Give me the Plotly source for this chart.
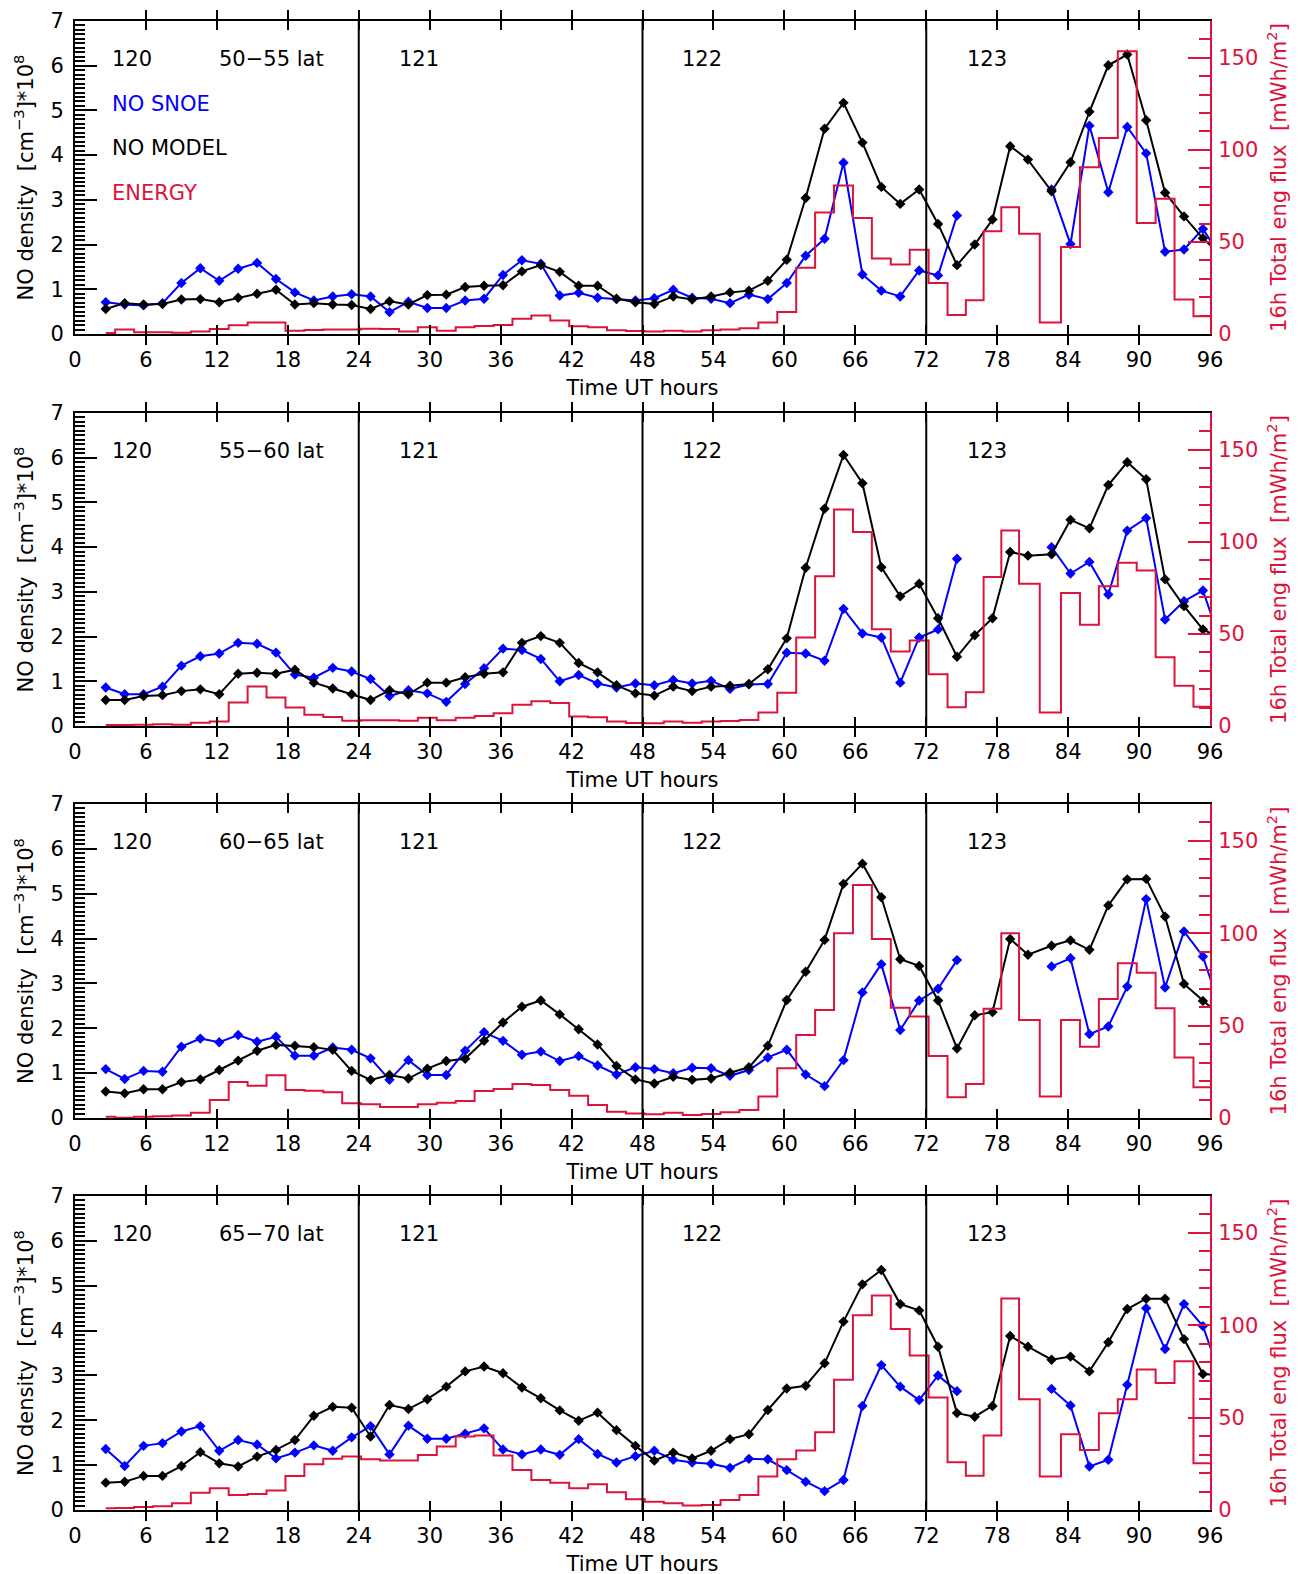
import plotly.graph_objects as go

# ---------------- data ----------------
T = [2.6, 4.2, 5.8, 7.4, 9.0, 10.6, 12.2, 13.8, 15.4, 17.0, 18.6, 20.2, 21.8, 23.4, 25.0,
     26.6, 28.2, 29.8, 31.4, 33.0, 34.6, 36.2, 37.8, 39.4, 41.0, 42.6, 44.2, 45.8, 47.4,
     49.0, 50.6, 52.2, 53.8, 55.4, 57.0, 58.6, 60.2, 61.8, 63.4, 65.0, 66.6, 68.2, 69.8,
     71.4, 73.0, 74.6, 76.1, 77.6, 79.1, 80.6, 82.6, 84.2, 85.8, 87.4, 89.0, 90.6, 92.2,
     93.8, 95.4, 97.0]

LAT_LABELS = ["50\u221255 lat", "55\u221260 lat", "60\u221265 lat", "65\u221270 lat"]
DAY_LABELS = ["120", "121", "122", "123"]
DAY_X = [3.0, 27.2, 51.2, 75.3]
X_TICKS = list(range(0, 97, 6))
DAY_LINES = [24, 48, 72]

N = None
snoe_1 = [0.71, 0.66, 0.64, 0.69, 1.14, 1.47, 1.19, 1.46, 1.59, 1.23, 0.93, 0.75, 0.84, 0.89, 0.84,
          0.49, 0.72, 0.58, 0.58, 0.75, 0.79, 1.32, 1.65, 1.57, 0.86, 0.92, 0.81, 0.78, 0.75,
          0.80, 0.99, 0.81, 0.79, 0.69, 0.88, 0.78, 1.14, 1.75, 2.13, 3.83, 1.33, 0.97, 0.84,
          1.42, 1.31, 2.65, N, N, N, N, 3.23, 2.01, 4.66, 3.17, 4.63, 4.04, 1.84, 1.89, 2.35, 1.70]
model_1 = [0.56, 0.69, 0.66, 0.67, 0.77, 0.78, 0.71, 0.81, 0.90, 0.99, 0.66, 0.69, 0.66, 0.65, 0.56,
           0.73, 0.66, 0.87, 0.88, 1.05, 1.08, 1.09, 1.40, 1.54, 1.39, 1.08, 1.08, 0.79, 0.71,
           0.67, 0.84, 0.77, 0.84, 0.93, 0.97, 1.19, 1.66, 3.04, 4.59, 5.17, 4.28, 3.29, 2.91,
           3.23, 2.46, 1.54, 2.00, 2.56, 4.20, 3.90, 3.19, 3.84, 4.97, 6.01, 6.25, 4.78, 3.16,
           2.63, 2.14, 1.75]
energy_1 = [0.5, 2.4, 1.0, 1.0, 0.7, 1.3, 2.7, 4.7, 6.3, 6.3, 1.8, 2.2, 2.4, 2.5, 2.9,
            2.7, 1.4, 3.6, 1.8, 3.6, 4.3, 4.9, 8.3, 10.0, 7.4, 4.2, 3.6, 2.0, 1.6,
            1.4, 1.8, 1.4, 2.0, 2.4, 3.1, 6.3, 12.0, 36.0, 66.0, 80.6, 63.0, 41.0, 37.7,
            45.8, 27.7, 10.3, 18.3, 55.8, 68.8, 54.5, 6.3, 47.3, 90.6, 106.5, 153.6, 60.3, 73.4,
            18.7, 9.6, 9.6]

snoe_2 = [0.86, 0.71, 0.71, 0.88, 1.35, 1.56, 1.62, 1.86, 1.84, 1.64, 1.15, 1.08, 1.30, 1.22, 1.05,
          0.67, 0.80, 0.73, 0.54, 0.94, 1.29, 1.73, 1.70, 1.50, 1.00, 1.14, 0.95, 0.86, 0.95,
          0.91, 1.03, 0.95, 1.01, 0.83, 0.93, 0.94, 1.64, 1.62, 1.46, 2.62, 2.07, 1.98, 0.97,
          1.98, 2.16, 3.74, N, N, N, N, 4.00, 3.41, 3.67, 2.94, 4.37, 4.65, 2.38, 2.79, 3.03, 1.80]
model_2 = [0.58, 0.58, 0.67, 0.69, 0.78, 0.82, 0.71, 1.17, 1.19, 1.17, 1.26, 0.97, 0.84, 0.71, 0.58,
           0.80, 0.71, 0.97, 0.97, 1.09, 1.17, 1.20, 1.86, 2.01, 1.86, 1.41, 1.20, 0.91, 0.73,
           0.68, 0.88, 0.78, 0.88, 0.90, 0.94, 1.27, 1.96, 3.54, 4.86, 6.06, 5.43, 3.55, 2.90,
           3.18, 2.41, 1.55, 2.03, 2.41, 3.89, 3.81, 3.84, 4.61, 4.42, 5.39, 5.90, 5.52, 3.28,
           2.68, 2.16, 1.95]
energy_2 = [0.5, 0.5, 0.7, 0.9, 0.7, 1.8, 2.5, 12.8, 21.5, 15.5, 10.1, 6.1, 4.9, 2.9, 3.1,
            3.1, 2.9, 4.5, 3.1, 4.5, 5.4, 6.9, 11.6, 13.4, 12.5, 5.1, 4.7, 2.4, 1.6,
            1.5, 2.4, 1.8, 2.4, 2.7, 3.3, 7.3, 18.1, 48.1, 81.3, 117.6, 105.4, 52.6, 40.5,
            46.5, 28.1, 10.2, 18.3, 80.9, 106.2, 77.3, 7.3, 72.2, 55.0, 75.9, 88.6, 84.4, 37.4,
            21.8, 10.5, 10.5]

snoe_3 = [1.09, 0.87, 1.05, 1.03, 1.59, 1.77, 1.69, 1.85, 1.70, 1.81, 1.39, 1.39, 1.57, 1.52, 1.33,
          0.85, 1.29, 0.96, 0.96, 1.50, 1.91, 1.72, 1.41, 1.48, 1.27, 1.38, 1.17, 0.97, 1.13,
          1.09, 1.00, 1.12, 1.11, 0.94, 1.07, 1.35, 1.52, 0.97, 0.71, 1.29, 2.80, 3.43, 1.96,
          2.62, 2.88, 3.52, N, N, N, N, 3.38, 3.56, 1.87, 2.04, 2.93, 4.88, 2.91, 4.16, 3.60, 2.35]
model_3 = [0.59, 0.55, 0.64, 0.64, 0.80, 0.86, 1.07, 1.28, 1.50, 1.63, 1.61, 1.58, 1.52, 1.05, 0.85,
           0.96, 0.88, 1.10, 1.27, 1.32, 1.72, 2.13, 2.48, 2.62, 2.31, 1.98, 1.64, 1.16, 0.86,
           0.77, 0.92, 0.85, 0.88, 1.01, 1.13, 1.61, 2.63, 3.26, 3.97, 5.22, 5.67, 4.92, 3.54,
           3.39, 2.62, 1.55, 2.29, 2.36, 3.99, 3.64, 3.84, 3.96, 3.75, 4.74, 5.32, 5.33, 4.49,
           2.99, 2.61, 2.25]
energy_3 = [0.7, 0.2, 0.7, 0.9, 1.3, 2.9, 9.8, 19.5, 17.5, 23.1, 15.2, 14.8, 13.9, 8.0, 7.4,
            6.0, 6.0, 7.4, 8.3, 9.2, 14.6, 15.7, 18.4, 17.9, 15.2, 12.1, 7.1, 3.4, 2.4,
            2.0, 2.9, 1.6, 2.2, 3.1, 4.3, 11.6, 26.9, 44.9, 58.5, 100.0, 126.2, 96.9, 59.7,
            54.9, 33.6, 11.2, 18.4, 59.2, 100.0, 53.1, 11.6, 53.1, 38.6, 64.4, 83.8, 78.7, 59.4,
            32.7, 16.6, 16.6]

snoe_4 = [1.36, 0.98, 1.43, 1.49, 1.75, 1.87, 1.32, 1.56, 1.46, 1.15, 1.28, 1.44, 1.32, 1.62, 1.87,
          1.24, 1.88, 1.59, 1.59, 1.70, 1.82, 1.35, 1.24, 1.35, 1.23, 1.58, 1.25, 1.06, 1.20,
          1.32, 1.12, 1.06, 1.03, 0.94, 1.14, 1.13, 0.89, 0.63, 0.42, 0.67, 2.32, 3.23, 2.75,
          2.45, 3.00, 2.65, N, N, N, N, 2.70, 2.33, 0.97, 1.12, 2.79, 4.50, 3.59, 4.59, 4.10, 2.90]
model_4 = [0.61, 0.63, 0.76, 0.76, 0.98, 1.29, 1.04, 0.97, 1.19, 1.34, 1.56, 2.10, 2.30, 2.28, 1.64,
           2.34, 2.25, 2.47, 2.75, 3.09, 3.20, 3.05, 2.73, 2.49, 2.22, 1.99, 2.17, 1.78, 1.43,
           1.10, 1.28, 1.15, 1.32, 1.58, 1.69, 2.23, 2.71, 2.77, 3.27, 4.20, 5.03, 5.35, 4.59,
           4.45, 3.64, 2.16, 2.08, 2.32, 3.88, 3.64, 3.35, 3.42, 3.09, 3.74, 4.48, 4.71, 4.71,
           3.81, 3.03, 3.00]
energy_4 = [0.9, 1.1, 1.6, 2.0, 3.6, 9.4, 11.8, 8.1, 8.7, 10.5, 18.4, 24.8, 27.8, 28.9, 27.5,
            26.8, 26.8, 29.8, 34.4, 39.8, 40.3, 29.5, 21.7, 16.3, 14.8, 11.8, 13.9, 9.6, 5.8,
            4.5, 3.6, 2.4, 2.7, 5.4, 8.1, 18.1, 27.5, 32.2, 42.1, 70.5, 105.4, 116.1, 98.0,
            83.7, 60.9, 25.9, 18.6, 40.3, 114.5, 60.0, 18.1, 41.0, 32.5, 52.4, 60.0, 76.0, 68.7,
            80.5, 25.3, 25.3]

SNOE = [snoe_1, snoe_2, snoe_3, snoe_4]
MODEL = [model_1, model_2, model_3, model_4]
ENERGY = [energy_1, energy_2, energy_3, energy_4]

# ---------------- style ----------------
# the page body has an 8 px margin, so the figure is shifted by 8 px
OFF = 8
W = 1301 - 2 * OFF
H = 1600          # taller than the window so the last axis title has room
PANEL_TOP = [21, 413, 804, 1196]
PANEL_BOT = [334, 726, 1118, 1510]
RED = "#DC143C"
BLUE = "#0000FF"
FONT = "DejaVu Sans"
FS = 21

fig = go.Figure()
layout = {}
shapes = []
annotations = []

for i in range(4):
    xname = "x" if i == 0 else f"x{i+1}"
    yl = "y" if i == 0 else f"y{2*i+1}"
    yr = f"y{2*i+2}"
    xkey = "xaxis" if i == 0 else f"xaxis{i+1}"
    ylkey = "yaxis" if i == 0 else f"yaxis{2*i+1}"
    yrkey = f"yaxis{2*i+2}"
    dom = [1 - (PANEL_BOT[i] - OFF) / H, 1 - (PANEL_TOP[i] - OFF) / H]

    fig.add_trace(go.Scatter(x=T, y=ENERGY[i], xaxis=xname, yaxis=yr, mode="lines",
                             line=dict(color=RED, width=2, shape="hvh"),
                             showlegend=False, cliponaxis=True))
    fig.add_trace(go.Scatter(x=T, y=SNOE[i], xaxis=xname, yaxis=yl, mode="lines+markers",
                             line=dict(color=BLUE, width=2), connectgaps=False,
                             marker=dict(symbol="diamond", size=8, color=BLUE),
                             showlegend=False, cliponaxis=True))
    fig.add_trace(go.Scatter(x=T, y=MODEL[i], xaxis=xname, yaxis=yl, mode="lines+markers",
                             line=dict(color="black", width=2),
                             marker=dict(symbol="diamond", size=8, color="black"),
                             showlegend=False, cliponaxis=True))

    layout[xkey] = dict(
        domain=[0, 1], anchor=yl, range=[0, 96], tickmode="array", tickvals=X_TICKS,
        ticks="inside", ticklen=9, tickwidth=2, tickcolor="black",
        showline=True, linewidth=2, linecolor="black", mirror="allticks",
        showgrid=False, zeroline=False, automargin=False, ticklabelstandoff=6,
        tickfont=dict(family=FONT, size=FS, color="black"),
        title=dict(text="Time UT hours", font=dict(family=FONT, size=FS, color="black"), standoff=9),
    )
    layout[ylkey] = dict(
        domain=dom, anchor=xname, range=[0, 7], tickmode="linear", tick0=0, dtick=1,
        ticks="inside", ticklen=22, tickwidth=2, tickcolor="black",
        minor=dict(tick0=0, dtick=0.1, ticks="inside", ticklen=10, tickwidth=1.5,
                   tickcolor="black", showgrid=False),
        showline=True, linewidth=2, linecolor="black", mirror=False,
        showgrid=False, zeroline=False, automargin=False, ticklabelstandoff=5,
        tickfont=dict(family=FONT, size=FS, color="black"),
        title=dict(text="NO density  [cm<sup>\u22123</sup>]*10<sup>8</sup>",
                   font=dict(family=FONT, size=FS, color="black"), standoff=11),
    )
    layout[yrkey] = dict(
        overlaying=yl, side="right", anchor=xname, range=[0, 170],
        tickmode="linear", tick0=0, dtick=50,
        ticks="inside", ticklen=22, tickwidth=2, tickcolor=RED,
        minor=dict(tick0=0, dtick=10, ticks="inside", ticklen=11, tickwidth=1.5,
                   tickcolor=RED, showgrid=False),
        showline=True, linewidth=2, linecolor=RED,
        showgrid=False, zeroline=False, automargin=False, ticklabelstandoff=2,
        tickfont=dict(family=FONT, size=FS, color=RED),
        title=dict(text="16h Total eng flux  [mWh/m<sup>2</sup>]",
                   font=dict(family=FONT, size=FS, color=RED), standoff=14),
    )

    for xv in DAY_LINES:
        shapes.append(dict(type="line", xref=xname, yref=f"{yl} domain", x0=xv, x1=xv,
                           y0=0, y1=1, line=dict(color="black", width=2)))

    for lab, xv in zip(DAY_LABELS, DAY_X):
        annotations.append(dict(x=xv, y=6.15, xref=xname, yref=yl, text=lab, showarrow=False,
                                xanchor="left", yanchor="middle",
                                font=dict(family=FONT, size=FS, color="black")))
    annotations.append(dict(x=12.0, y=6.15, xref=xname, yref=yl, text=LAT_LABELS[i],
                            showarrow=False, xanchor="left", yanchor="middle",
                            font=dict(family=FONT, size=FS, color="black")))

# legend-like labels in first panel
for txt, yv, col in [("NO SNOE", 5.15, BLUE), ("NO MODEL", 4.15, "black"), ("ENERGY", 3.15, RED)]:
    annotations.append(dict(x=3.0, y=yv, xref="x", yref="y", text=txt, showarrow=False,
                            xanchor="left", yanchor="middle",
                            font=dict(family=FONT, size=FS, color=col)))

fig.update_layout(
    width=W, height=H,
    margin=dict(l=75 - OFF, r=W - (1210 - OFF), t=0, b=0),
    paper_bgcolor="white", plot_bgcolor="white",
    showlegend=False,
    shapes=shapes, annotations=annotations,
    **layout,
)

fig.write_html("out.html")
